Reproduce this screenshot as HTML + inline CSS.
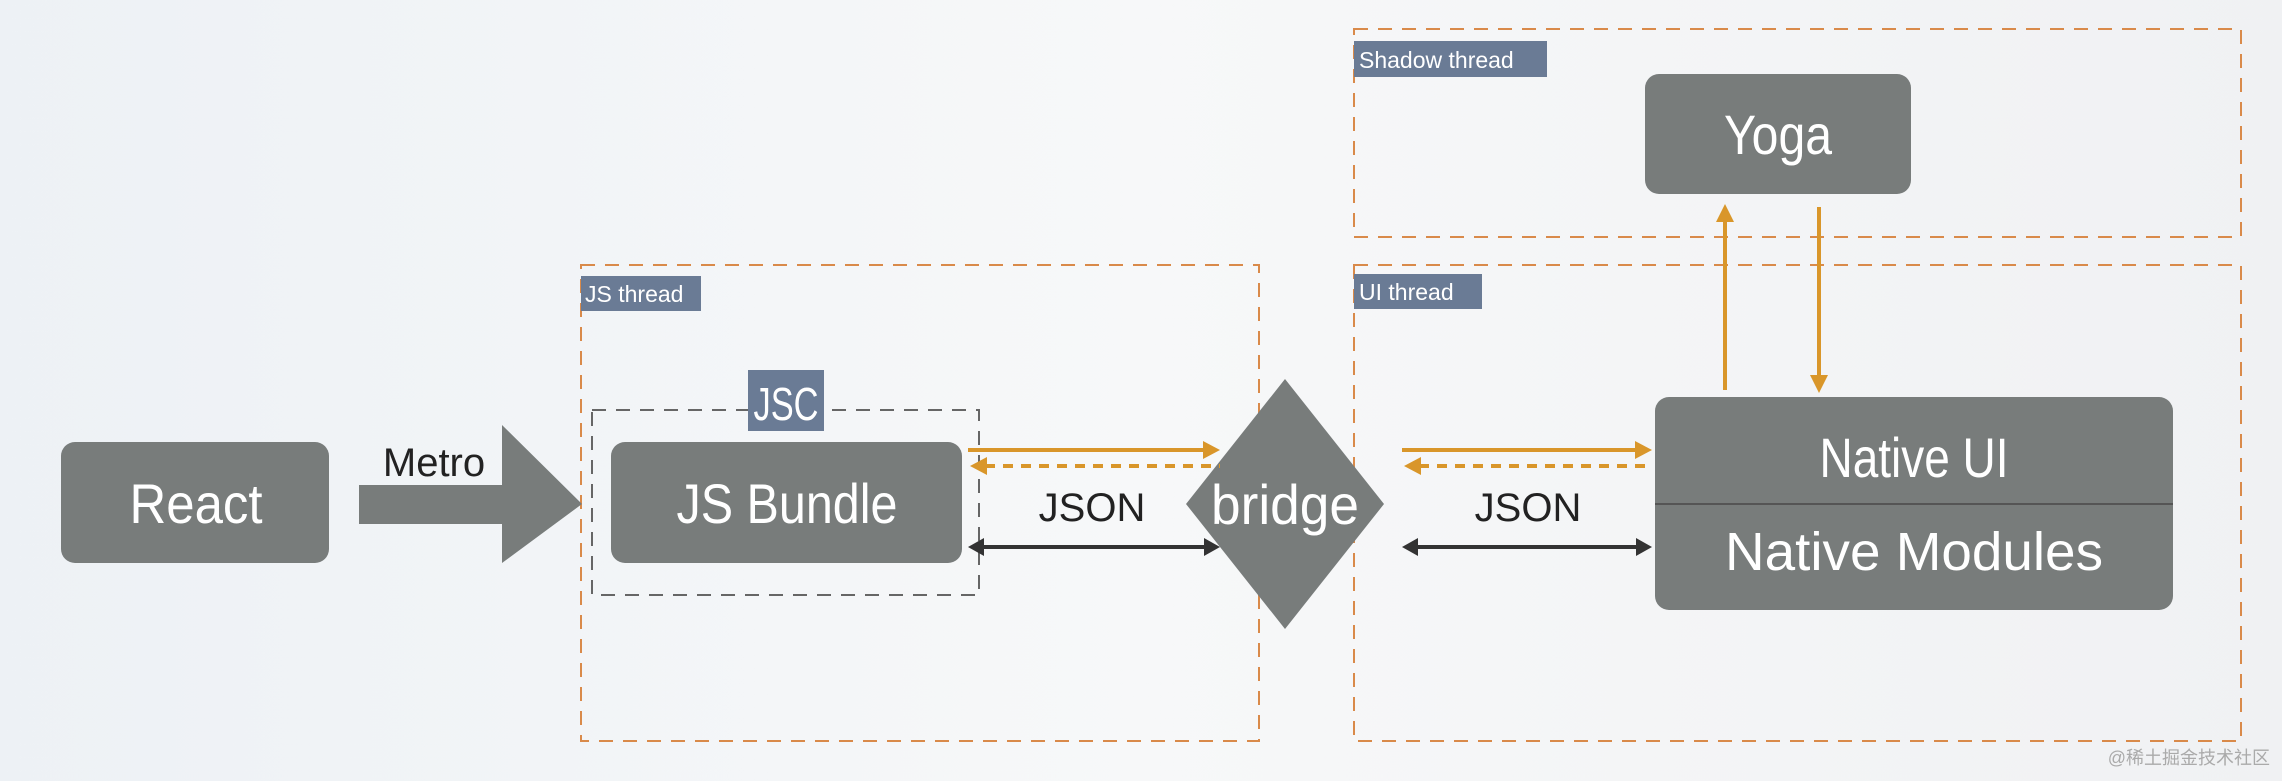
<!DOCTYPE html>
<html><head><meta charset="utf-8"><style>
html,body{margin:0;padding:0;}
body{width:2282px;height:776px;overflow:hidden;background:linear-gradient(90deg,#edf1f5 0%,#f7f8f9 50%,#f0f1f3 100%);}
svg text{font-family:"Liberation Sans",sans-serif;}
</style></head><body>
<svg width="2282" height="776" viewBox="0 0 2282 776" xmlns="http://www.w3.org/2000/svg">
<!-- thread boxes -->
<g fill="none" stroke="#d98a4a" stroke-width="2" stroke-dasharray="14,10">
<rect x="581" y="265" width="678" height="476"/>
<rect x="1354" y="29" width="887" height="208"/>
<rect x="1354" y="265" width="887" height="476"/>
</g>
<rect x="592" y="410" width="387" height="185" fill="none" stroke="#666" stroke-width="2" stroke-dasharray="14,10"/>
<!-- labels -->
<rect x="581" y="276" width="120" height="35" fill="#6a7b95"/>
<text x="585" y="302" font-size="23" fill="#fff">JS thread</text>
<rect x="1354" y="41" width="193" height="36" fill="#6a7b95"/>
<text x="1359" y="68" font-size="23" fill="#fff">Shadow thread</text>
<rect x="1354" y="274" width="128" height="35" fill="#6a7b95"/>
<text x="1359" y="300" font-size="23" fill="#fff">UI thread</text>
<rect x="748" y="370" width="76" height="61" fill="#6a7b95"/>
<text x="786" y="420" font-size="46" fill="#fff" text-anchor="middle" textLength="65" lengthAdjust="spacingAndGlyphs">JSC</text>
<!-- boxes -->
<g fill="#787c7b">
<rect x="61" y="442" width="268" height="121" rx="14"/>
<rect x="611" y="442" width="351" height="121" rx="14"/>
<rect x="1645" y="74" width="266" height="120" rx="14"/>
<rect x="1655" y="397" width="518" height="213" rx="14"/>
<polygon points="1285,379 1384,504 1285,629 1186,504"/>
<polygon points="359,485 502,485 502,425 582,504 502,563 502,524 359,524"/>
</g>
<line x1="1655" y1="504" x2="2173" y2="504" stroke="#555" stroke-width="2"/>
<g fill="#fff" font-size="56" text-anchor="middle">
<text x="196" y="523" textLength="133" lengthAdjust="spacingAndGlyphs">React</text>
<text x="787" y="523" textLength="221" lengthAdjust="spacingAndGlyphs">JS Bundle</text>
<text x="1285" y="524" textLength="148" lengthAdjust="spacingAndGlyphs">bridge</text>
<text x="1778" y="154" textLength="108" lengthAdjust="spacingAndGlyphs">Yoga</text>
<text x="1914" y="477" textLength="189" lengthAdjust="spacingAndGlyphs">Native UI</text>
<text x="1914" y="570" font-size="54" textLength="378" lengthAdjust="spacingAndGlyphs">Native Modules</text>
</g>
<g fill="#222" font-size="40" text-anchor="middle">
<text x="434" y="476">Metro</text>
<text x="1092" y="521">JSON</text>
<text x="1528" y="521">JSON</text>
</g>
<!-- orange arrows -->
<g stroke="#d9962a" stroke-width="4" fill="#d9962a">
<line x1="968" y1="450" x2="1205" y2="450"/>
<line x1="985" y1="466" x2="1220" y2="466" stroke-dasharray="10,8"/>
<line x1="1402" y1="450" x2="1637" y2="450"/>
<line x1="1419" y1="466" x2="1652" y2="466" stroke-dasharray="10,8"/>
<line x1="1725" y1="390" x2="1725" y2="220"/>
<line x1="1819" y1="207" x2="1819" y2="378"/>
</g>
<g fill="#d9962a">
<polygon points="1220,450 1203,441 1203,459"/>
<polygon points="970,466 987,457 987,475"/>
<polygon points="1652,450 1635,441 1635,459"/>
<polygon points="1404,466 1421,457 1421,475"/>
<polygon points="1725,204 1716,222 1734,222"/>
<polygon points="1819,393 1810,375 1828,375"/>
</g>
<!-- black arrows -->
<g stroke="#333" stroke-width="4"><line x1="980" y1="547" x2="1208" y2="547"/><line x1="1414" y1="547" x2="1640" y2="547"/></g>
<g fill="#333">
<polygon points="968,547 984,538 984,556"/><polygon points="1220,547 1204,538 1204,556"/>
<polygon points="1402,547 1418,538 1418,556"/><polygon points="1652,547 1636,538 1636,556"/>
</g>
<text x="2270" y="764" font-size="18" fill="#aaa" text-anchor="end" style="font-family:'Liberation Sans','Noto Sans CJK SC',sans-serif">@稀土掘金技术社区</text>
</svg>
</body></html>
